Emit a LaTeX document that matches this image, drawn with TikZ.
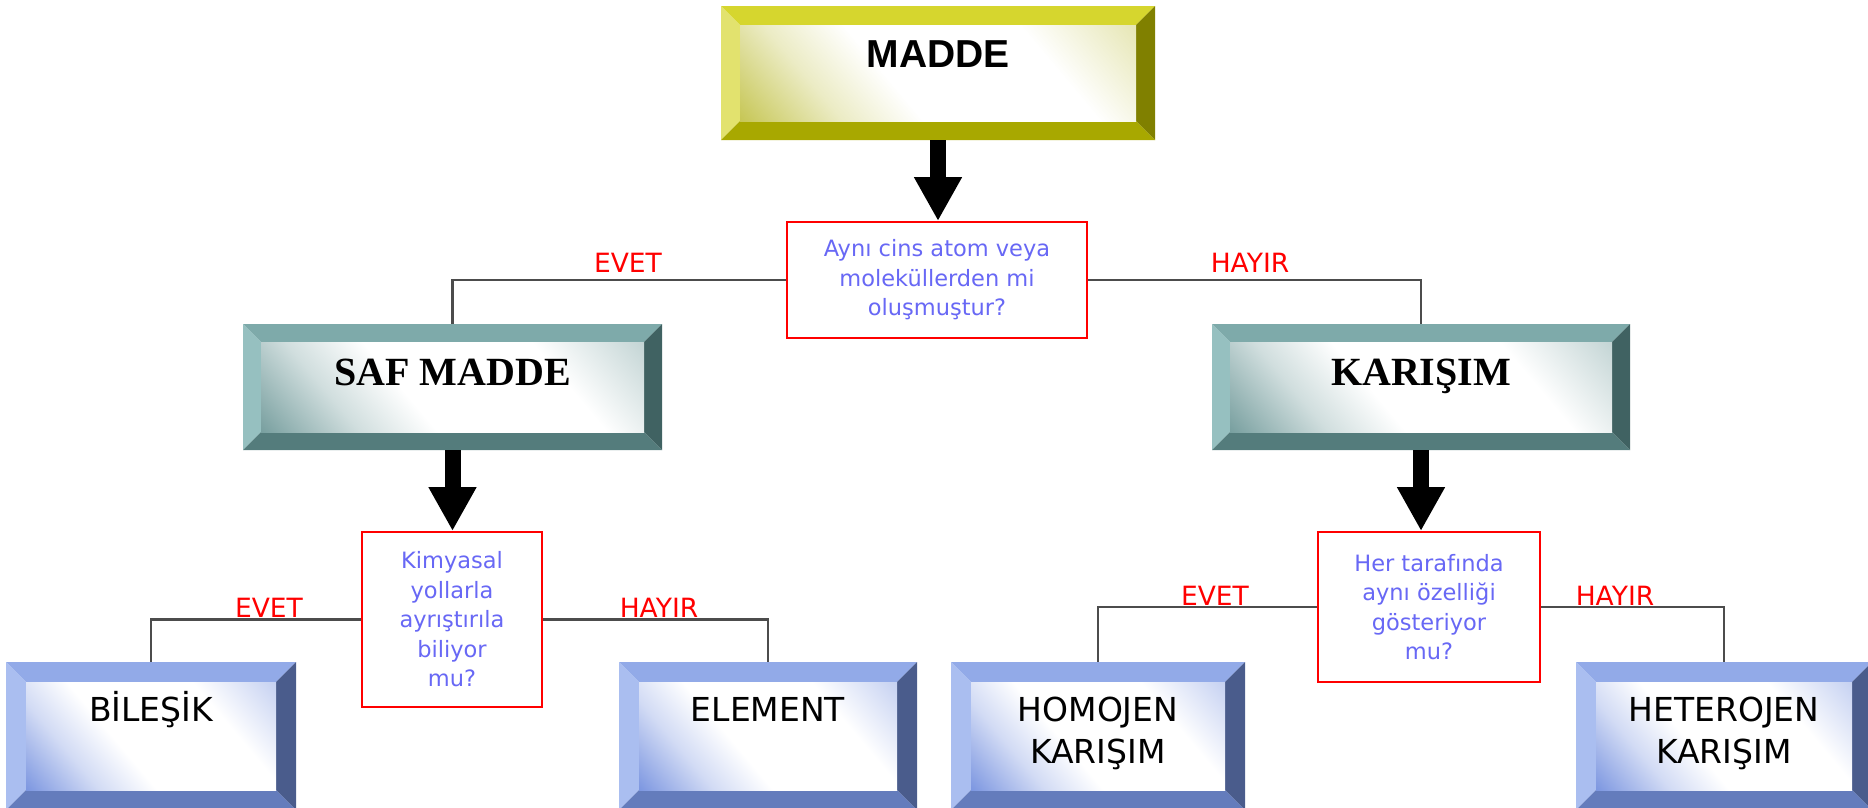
\documentclass[tikz,border=0pt]{standalone}
\usepackage{fontspec}
\setmainfont{DejaVu Sans}
\newfontfamily\arialfont{Liberation Sans}
\newfontfamily\timesfont{Liberation Serif}
\usetikzlibrary{calc,arrows.meta}

% Renkler
\definecolor{maddeTop}{RGB}{214,214,46}
\definecolor{maddeLeft}{RGB}{226,226,110}
\definecolor{maddeRight}{RGB}{128,128,0}
\definecolor{maddeBot}{RGB}{168,168,0}
\definecolor{maddeFace}{RGB}{190,190,60}
\definecolor{safTop}{RGB}{126,170,170}
\definecolor{safLeft}{RGB}{150,192,192}
\definecolor{safRight}{RGB}{64,98,98}
\definecolor{safBot}{RGB}{84,124,124}
\definecolor{safFace}{RGB}{100,145,145}
\definecolor{sonTop}{RGB}{146,170,232}
\definecolor{sonLeft}{RGB}{170,190,240}
\definecolor{sonRight}{RGB}{74,92,140}
\definecolor{sonBot}{RGB}{100,124,188}
\definecolor{sonFace}{RGB}{105,135,220}
\definecolor{soruMavi}{RGB}{104,104,245}
\colorlet{yuz}{maddeFace}

% Kutu yuzu icin golge
\pgfdeclareverticalshading[yuz]{yuzgolge}{100bp}{color(0bp)=(yuz); color(14bp)=(yuz!90!white);
  color(30bp)=(yuz!30!white); color(42bp)=(white); color(68bp)=(white);
  color(86bp)=(yuz!40!white); color(100bp)=(yuz!40!white)}

\tikzset{
  bevel/.style 2 args={inner xsep=0pt, inner ysep=0pt, text=black,
    path picture={
      \coordinate (nw) at (path picture bounding box.north west);
      \coordinate (se) at (path picture bounding box.south east);
      \coordinate (ne) at (nw -| se);
      \coordinate (sw) at (nw |- se);
      \coordinate (inw) at ($(nw)+(#2,#2)$);
      \coordinate (ine) at ($(ne)+(-#2,#2)$);
      \coordinate (ise) at ($(se)+(-#2,-#2)$);
      \coordinate (isw) at ($(sw)+(#2,-#2)$);
      \fill[#1Top] (nw) -- (ne) -- (ine) -- (inw) -- cycle;
      \fill[#1Left] (nw) -- (inw) -- (isw) -- (sw) -- cycle;
      \fill[#1Right] (ne) -- (se) -- (ise) -- (ine) -- cycle;
      \fill[#1Bot] (sw) -- (isw) -- (ise) -- (se) -- cycle;
      \colorlet{yuz}{#1Face}
      \shade[shading=yuzgolge, shading angle=-50] (inw) rectangle (ise);
    }},
  sarikutu/.style={bevel={madde}{19}, anchor=north, text height=61pt, text depth=73pt,
    font=\arialfont\bfseries\fontsize{39}{44}\selectfont},
  yesilkutu/.style={bevel={saf}{18}, anchor=north, text height=61pt, text depth=65pt,
    font=\timesfont\bfseries\fontsize{40}{44}\selectfont},
  mavikutu/.style={bevel={son}{20}, anchor=north, align=center, text height=59pt, text depth=89pt,
    font=\fontsize{33}{42}\selectfont},
  ikisatir/.style={text height=101pt, text depth=47pt},
  soru/.style={draw=red, line width=2pt, fill=white, align=center, inner sep=0pt,
    text=soruMavi, font=\fontsize{22.5}{29.5}\selectfont},
  etiket/.style={text=red, inner sep=0pt, font=\fontsize{26.5}{30}\selectfont},
  baglanti/.style={draw=black!70, line width=2.5pt},
  okbuyuk/.style={line width=16pt, -{Triangle[width=45pt,length=44pt]}}
}

\begin{document}
\begin{tikzpicture}[x=1pt, y=-1pt]
  \useasboundingbox (0,0) rectangle (1868,808);
  \clip (0,0) rectangle (1868,808);

  % Kutular
  \node[sarikutu, minimum width=434pt] (madde) at (938,6) {MADDE};
  \node[yesilkutu, minimum width=419pt] (saf) at (452.5,324) {SAF MADDE};
  \node[yesilkutu, minimum width=418pt] (kar) at (1421,324) {KARIŞIM};
  \node[mavikutu, minimum width=290pt] (bil) at (151,662) {BİLEŞİK};
  \node[mavikutu, minimum width=298pt] (ele) at (768,662) {ELEMENT};
  \node[mavikutu, ikisatir, minimum width=294pt] (hom) at (1098,662) {HOMOJEN\\KARIŞIM};
  \node[mavikutu, ikisatir, minimum width=296pt] (het) at (1724,662) {HETEROJEN\\KARIŞIM};

  % Sorular
  \node[soru, minimum width=300pt, minimum height=116pt] (q1) at (937,280)
    {Aynı cins atom veya\\moleküllerden mi\\oluşmuştur?};
  \node[soru, minimum width=180pt, minimum height=175pt] (q2) at (452,619.5)
    {Kimyasal\\yollarla\\ayrıştırıla\\biliyor\\mu?};
  \node[soru, minimum width=222pt, minimum height=150pt] (q3) at (1429,607)
    {Her tarafında\\aynı özelliği\\gösteriyor\\mu?};

  % Oklar
  \draw[okbuyuk] (madde.south) -- (madde.south |- q1.north);
  \draw[okbuyuk] (saf.south) -- (saf.south |- q2.north);
  \draw[okbuyuk] (kar.south) -- (kar.south |- q3.north);

  % Baglantilar
  \draw[baglanti] (q1.west) -| (saf.north);
  \draw[baglanti] (q1.east) -| (kar.north);
  \draw[baglanti] (q2.west) -| (bil.north);
  \draw[baglanti] (q2.east) -| (ele.north);
  \draw[baglanti] (q3.west) -| (hom.north);
  \draw[baglanti] (q3.east) -| (het.north);

  % Etiketler
  \node[etiket] (ev1) at (628,263) {EVET};
  \node[etiket] (hy1) at (1250,263) {HAYIR};
  \node[etiket] (ev2) at (269,608) {EVET};
  \node[etiket] (hy2) at (659,608) {HAYIR};
  \node[etiket] (ev3) at (1215,596) {EVET};
  \node[etiket] (hy3) at (1615,596) {HAYIR};
\end{tikzpicture}
\end{document}
